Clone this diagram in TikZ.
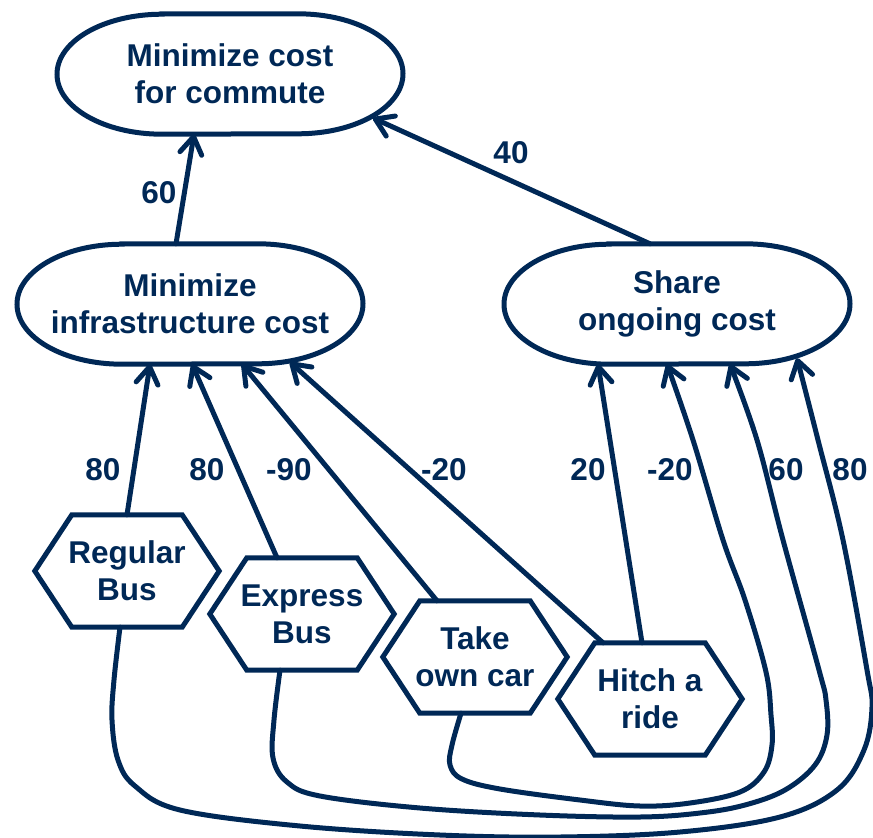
\documentclass[tikz,border=0pt]{standalone}
\usepackage{fontspec}
\setmainfont{Liberation Sans}
\usetikzlibrary{arrows.meta}
\definecolor{navy}{RGB}{0,40,86}

% stadium-like goal outline: flat top/bottom with elliptic ends
\newcommand\goaloutline[1]{%
  \draw[outline] ([xshift=-68pt]#1.north) -- ([xshift=68pt]#1.north)
    arc[start angle=90, end angle=-90, x radius=105pt, y radius=60pt]
    -- ([xshift=-68pt]#1.south)
    arc[start angle=270, end angle=90, x radius=105pt, y radius=60pt] -- cycle;}
% stretched hexagon outline for tasks
\newcommand\taskoutline[1]{%
  \draw[outline, line join=miter] (#1.west) -- ([xshift=37pt]#1.north west)
    -- ([xshift=-37pt]#1.north east) -- (#1.east)
    -- ([xshift=-37pt]#1.south east) -- ([xshift=37pt]#1.south west) -- cycle;}

\begin{document}
\begin{tikzpicture}[x=1pt,y=-1pt,
  every node/.style={text=navy, font=\fontsize{31.5}{37}\selectfont\bfseries},
  goal/.style={minimum width=346pt, minimum height=120pt, inner sep=0pt, align=center},
  task/.style={minimum width=184pt, minimum height=112pt, inner sep=0pt, align=center},
  outline/.style={draw=navy, line width=5pt},
  link/.style={draw=navy, line width=5pt, line cap=round, line join=round,
    -{Straight Barb[length=17pt,width=22pt,round]}},
  weight/.style={inner sep=0pt}
]
\useasboundingbox (0,0) rectangle (873,838);

% goals
\node[goal] (goal)  at (230,74)  {Minimize cost\\for commute};
\node[goal] (infra) at (190,304) {Minimize\\infrastructure cost};
\node[goal] (share) at (677,304) {Share\\ongoing cost};
\goaloutline{goal}
\goaloutline{infra}
\goaloutline{share}

% tasks
\node[task] (rb) at (127,571) {Regular\\Bus};
\node[task] (eb) at (302,614) {Express\\Bus};
\node[task] (tc) at (475,657) {Take\\own car};
\node[task] (hr) at (650,699) {Hitch a\\ride};
\taskoutline{rb}
\taskoutline{eb}
\taskoutline{tc}
\taskoutline{hr}

% contributions to the top goal
\draw[link] ([xshift=-14pt]infra.north) -- ([xshift=-36pt]goal.south);
\draw[link] ([xshift=-27pt]share.north) -- ([xshift=143pt,yshift=-44pt]goal.center);

% contributions to infrastructure cost
\draw[link] (rb.north) -- ([xshift=-40pt]infra.south);
\draw[link] ([xshift=-25pt]eb.north) -- ([xshift=2pt]infra.south);
\draw[link] ([xshift=-38pt]tc.north) -- ([xshift=52pt]infra.south);
\draw[link] ([xshift=-47pt]hr.north) -- ([xshift=100pt,yshift=2pt]infra.south);

% contributions to ongoing cost
\draw[link] ([xshift=-8pt]hr.north) -- ([xshift=-79pt]share.south);

\coordinate (c1s) at ([xshift=-7pt]rb.south);
\coordinate (c1e) at ([xshift=120pt,yshift=6pt]share.south);
\coordinate (c2s) at ([xshift=-22pt]eb.south);
\coordinate (c2e) at ([xshift=53pt]share.south);
\coordinate (c3s) at ([xshift=-14pt]tc.south);
\coordinate (c3e) at ([xshift=-10pt]share.south);

\draw[link] plot[smooth, tension=0.6] coordinates {(c1s) (114,680) (112,720) (118,760)
  (135,786) (180,810) (300,826) (440,835) (560,837) (680,832) (780,817) (837,790)
  (864,750) (872,707) (867,670) (843,540) (818,440) (c1e)};
\draw[link] plot[smooth, tension=0.6] coordinates {(c2s) (274,720) (273,758) (287,782)
  (320,796) (420,808) (540,815) (640,817) (700,813) (745,805) (785,790) (815,765)
  (827,735) (826,700) (819,670) (783,540) (757,440) (c2e)};
\draw[link] plot[smooth, tension=0.6] coordinates {(c3s) (452,745) (450,765) (462,779)
  (500,789) (580,800) (640,806) (690,803) (740,792) (764,772) (772,745) (771,715)
  (766,672) (745,600) (723,540) (693,440) (c3e)};

% weights
\node[weight] (w1)  at (159,193) {60};
\node[weight] (w2)  at (511,153) {40};
\node[weight] (w3)  at (103,470) {80};
\node[weight] (w4)  at (207,470) {80};
\node[weight] (w5)  at (289,470) {-90};
\node[weight] (w6)  at (444,470) {-20};
\node[weight] (w7)  at (588,470) {20};
\node[weight] (w8)  at (670,470) {-20};
\node[weight] (w9)  at (786,470) {60};
\node[weight] (w10) at (850,470) {80};
\end{tikzpicture}
\end{document}
